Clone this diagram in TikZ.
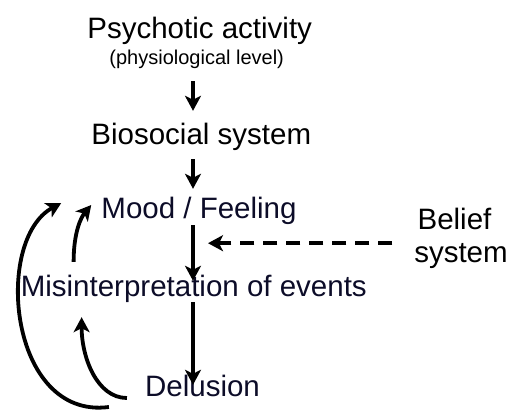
\documentclass[tikz,border=0pt]{standalone}
\usepackage{fontspec}
\setmainfont{Liberation Sans}
\usetikzlibrary{arrows.meta,calc}
\definecolor{navytext}{RGB}{12,12,40}
\begin{document}
\begin{tikzpicture}[x=1pt,y=-1pt,
  big/.style={font=\fontsize{29.5}{32}\selectfont, inner sep=0pt, text height=21pt, text depth=6pt, anchor=base},
  small/.style={font=\fontsize{20}{22}\selectfont, inner sep=0pt, text height=15pt, text depth=4.5pt, anchor=base},
  arr/.style={line width=3.8pt, -{Stealth[length=15pt,width=16pt,inset=4pt]}},
  dasharr/.style={line width=3.8pt, dash pattern=on 14pt off 9pt, -{Stealth[length=15pt,width=16pt,inset=4pt]}}]
\useasboundingbox (0,0) rectangle (510,412);
\coordinate (vx) at (193,0);
\node[big] (psy) at (199.7,38) {Psychotic activity};
\node[small] (phys) at (196.7,64) {(physiological level)};
\node[big] (bio) at (201.3,144) {Biosocial system};
\node[big,text=navytext] (mood) at (199,218) {Mood / Feeling};
\node[big,text=navytext] (mis) at (193.8,296) {Misinterpretation of events};
\node[big,text=navytext] (del) at (202.5,396) {Delusion};
\node[big] (bel) at (454.5,229) {Belief};
\node[big] (sys) at (461,262) {system};
% vertical arrows
\draw[arr, shorten <=12.5pt, shorten >=12pt] (phys.south -| vx) -- (bio.north -| vx);
\draw[arr, shorten <=9pt, shorten >=8pt] (bio.south -| vx) -- (mood.north -| vx);
\draw[arr, shorten <=1pt, shorten >=-6pt] (mood.south -| vx) -- (mis.north -| vx);
\draw[arr, shorten <=0pt, shorten >=-10pt] (mis.south -| vx) -- (del.north -| vx);
% dashed arrow from belief system
\coordinate (bs) at ($(bel.south west)+(-25,8)$);
\draw[dasharr] (bs) -- ($(bs -| vx)+(15,0)$);
% feedback curves
\draw[arr] ($(del.west)+(-36,18.5)$) .. controls +(-100,13) and +(-68,37) .. ($(mood.west)+(-40,-7.5)$);
\draw[arr] ($(del.west)+(-18,9.5)$) .. controls +(-30,0) and +(0,40) .. ($(mis.south west)+(61,15)$);
\draw[arr] ($(mis.north west)+(53,-13)$) .. controls +(0,-30) and +(-10,12) .. ($(mood.west)+(-10,-5.5)$);
\end{tikzpicture}
\end{document}
